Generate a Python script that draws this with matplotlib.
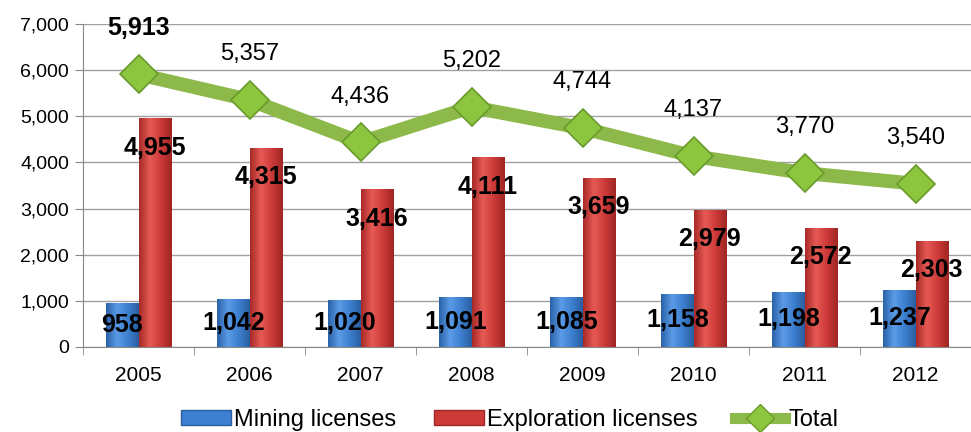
import matplotlib
matplotlib.use('Agg')
import matplotlib.pyplot as plt
import numpy as np
from matplotlib.colors import LinearSegmentedColormap
from matplotlib.lines import Line2D
from matplotlib.patches import Patch

years = ['2005', '2006', '2007', '2008', '2009', '2010', '2011', '2012']
mining = [958, 1042, 1020, 1091, 1085, 1158, 1198, 1237]
exploration = [4955, 4315, 3416, 4111, 3659, 2979, 2572, 2303]
total = [5913, 5357, 4436, 5202, 4744, 4137, 3770, 3540]

BLUE = '#3d7fd0'
RED = '#cc3a38'
GREEN = '#8db84a'

plt.rcParams.update({'font.family': ['Liberation Sans', 'DejaVu Sans'], 'font.size': 14})

fig = plt.figure(figsize=(9.71, 4.32), dpi=100)
ax = fig.add_axes([0.0855, 0.197, 0.9145, 0.747])

x = np.arange(len(years))
w = 0.29

blue_cm = LinearSegmentedColormap.from_list('b', ['#2a62a8', '#5b9be6', '#3d7fd0', '#2a5fa0'])
red_cm = LinearSegmentedColormap.from_list('r', ['#a82a28', '#e65a55', '#cc3a38', '#9e2624'])
grad = np.linspace(0, 1, 64).reshape(1, -1)


def shaded_bars(xs, vals, cmap, color):
    bars = ax.bar(xs, vals, w, color=color, zorder=2)
    for b in bars:
        x0, y0 = b.get_x(), b.get_y()
        im = ax.imshow(grad, cmap=cmap, aspect='auto', zorder=2.1,
                       extent=(x0, x0 + b.get_width(), y0, y0 + b.get_height()))
        im.set_clip_path(b)
    return bars


shaded_bars(x - w / 2, mining, blue_cm, BLUE)
shaded_bars(x + w / 2, exploration, red_cm, RED)

ax.plot(x, total, color=GREEN, lw=10, solid_joinstyle='miter', zorder=3)
ax.plot(x, total, ls='none', marker='D', ms=19, mfc='#8cc63f', mec='#6a9a2c', mew=1.2, zorder=4)

for i in range(len(years)):
    ax.text(x[i] - w / 2, mining[i] / 2, f'{mining[i]:,}', ha='center', va='center',
            fontsize=18, fontweight='bold', zorder=5)
    ax.annotate(f'{exploration[i]:,}', (x[i] + w / 2, exploration[i]), xytext=(0, -21),
                textcoords='offset points', ha='center', va='center',
                fontsize=18, fontweight='bold', zorder=5)
    ax.annotate(f'{total[i]:,}', (x[i], total[i]), xytext=(0, 33),
                textcoords='offset points', ha='center', va='center',
                fontsize=18 if i == 0 else 17, fontweight='bold' if i == 0 else 'normal', zorder=5)

ax.set_xlim(-0.5, len(years) - 0.5)
ax.set_ylim(0, 7000)
ax.set_yticks(range(0, 7001, 1000))
ax.set_yticklabels([f'{v:,}' for v in range(0, 7001, 1000)])
ax.set_xticks(x)
ax.set_xticklabels(years, fontsize=15)
ax.set_xticks(np.arange(-0.5, len(years)), minor=True)
ax.tick_params(axis='x', which='major', length=0, pad=14)
ax.tick_params(axis='x', which='minor', length=6, color='#888888')
ax.tick_params(axis='y', length=6, color='#888888', pad=4)
ax.grid(axis='y', color='#a0a0a0', lw=1, zorder=0)
ax.set_axisbelow(True)
for s in ['top', 'right']:
    ax.spines[s].set_visible(False)
ax.spines['left'].set_color('#888888')
ax.spines['bottom'].set_color('#888888')

handles = [Patch(facecolor=BLUE, edgecolor='#2a5fa0'),
           Patch(facecolor=RED, edgecolor='#9e2624'),
           Line2D([], [], color=GREEN, lw=8, marker='D', ms=14, mfc='#8cc63f', mec='#6a9a2c')]
fig.legend(handles, ['Mining licenses', 'Exploration licenses', 'Total'],
           loc='center', bbox_to_anchor=(0.525, 0.028), ncol=3, frameon=False,
           fontsize=17, handlelength=2.1, handleheight=0.6, columnspacing=1.6,
           handletextpad=0.15, borderpad=0.1)

fig.savefig('out.png', dpi=100)
